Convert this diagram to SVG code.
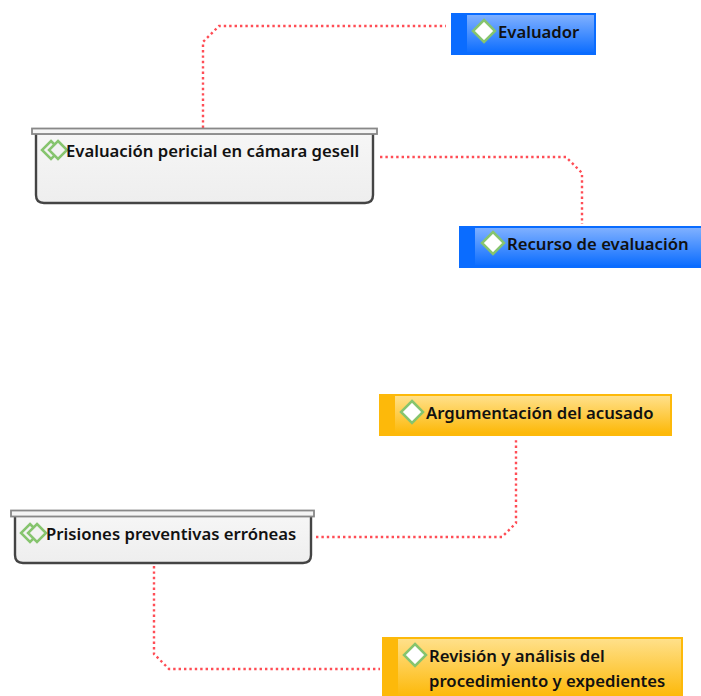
<svg xmlns="http://www.w3.org/2000/svg" width="701" height="696" viewBox="0 0 701 696">
<style>
text{font-family:"Noto Sans","Open Sans","DejaVu Sans",sans-serif;font-size:16.700px;font-weight:600;fill:#111}
.c{fill:none;stroke:#ff4d55;stroke-width:2.400;stroke-dasharray:2.400 3}
.d{fill:#fff;stroke:#86c46e;stroke-width:2.500}
.dd{fill:#f2f2f2;stroke:#86c46e;stroke-width:2.500}
.b{fill:url(#bg);stroke:#444;stroke-width:2.400}
.t{fill:#f4f4f4;stroke:#888;stroke-width:1.800}
.blue{fill:#0a6cff}.yel{fill:#fdb90a}
</style>
<defs>
<linearGradient id="bg" x1="0" y1="0" x2="0" y2="1"><stop offset="0" stop-color="#f6f6f6"/><stop offset="1" stop-color="#eeeeee"/></linearGradient>
<linearGradient id="bi" x1="0" y1="0" x2="0" y2="1"><stop offset="0" stop-color="#7fb0ff"/><stop offset="1" stop-color="#0f6fff"/></linearGradient>
<linearGradient id="yi" x1="0" y1="0" x2="0" y2="1"><stop offset="0" stop-color="#ffe08a"/><stop offset="1" stop-color="#fdb90a"/></linearGradient>
</defs>
<g id="connectors">
<path class="c" d="M203 128V42L219 26H446"/>
<path class="c" d="M380 157H566L582 173V224"/>
<path class="c" d="M316 537H502L516 523V440"/>
<path class="c" d="M154 566V654L169 669H380"/>
</g>
<g id="n1">
<path class="b" d="M36 133H373V195Q373 203 365 203H44Q36 203 36 195Z"/>
<rect class="t" x="32" y="128.500" width="345" height="5.500"/>
<path class="dd" d="M51 141L60 150L51 159L42 150Z"/><path class="dd" d="M58 141L67 150L58 159L49 150Z"/>
<text x="66" y="156.500">Evaluación pericial en cámara gesell</text>
</g>
<g id="n2">
<path class="b" d="M15 515H311V555Q311 563 303 563H23Q15 563 15 555Z"/>
<rect class="t" x="11" y="510.500" width="303" height="6"/>
<path class="dd" d="M30 524L39 533L30 542L21 533Z"/><path class="dd" d="M37 524L46 533L37 542L28 533Z"/>
<text x="46" y="539.500">Prisiones preventivas erróneas</text>
</g>
<g id="n3">
<rect class="blue" x="451" y="13" width="145" height="42"/>
<rect x="467" y="15" width="127" height="37" fill="url(#bi)"/>
<path class="d" d="M484 20L495 31L484 42L473 31Z"/>
<text x="498" y="38">Evaluador</text>
</g>
<g id="n4">
<rect class="blue" x="459" y="226" width="242" height="42"/>
<rect x="475" y="228" width="226" height="37" fill="url(#bi)"/>
<path class="d" d="M493 232L504 243L493 254L482 243Z"/>
<text x="507" y="249.500">Recurso de evaluación</text>
</g>
<g id="n5">
<rect class="yel" x="379" y="394" width="293" height="42"/>
<rect x="395" y="396" width="275" height="37" fill="url(#yi)"/>
<path class="d" d="M412 401L423 412L412 423L401 412Z"/>
<text x="426" y="419">Argumentación del acusado</text>
</g>
<g id="n6">
<rect class="yel" x="382" y="637" width="301" height="59"/>
<rect x="398" y="639" width="283" height="57" fill="url(#yi)"/>
<path class="d" d="M415 644L426 655L415 666L404 655Z"/>
<text x="429" y="662">Revisión y análisis del</text>
<text x="429" y="687">procedimiento y expedientes</text>
</g>
</svg>
